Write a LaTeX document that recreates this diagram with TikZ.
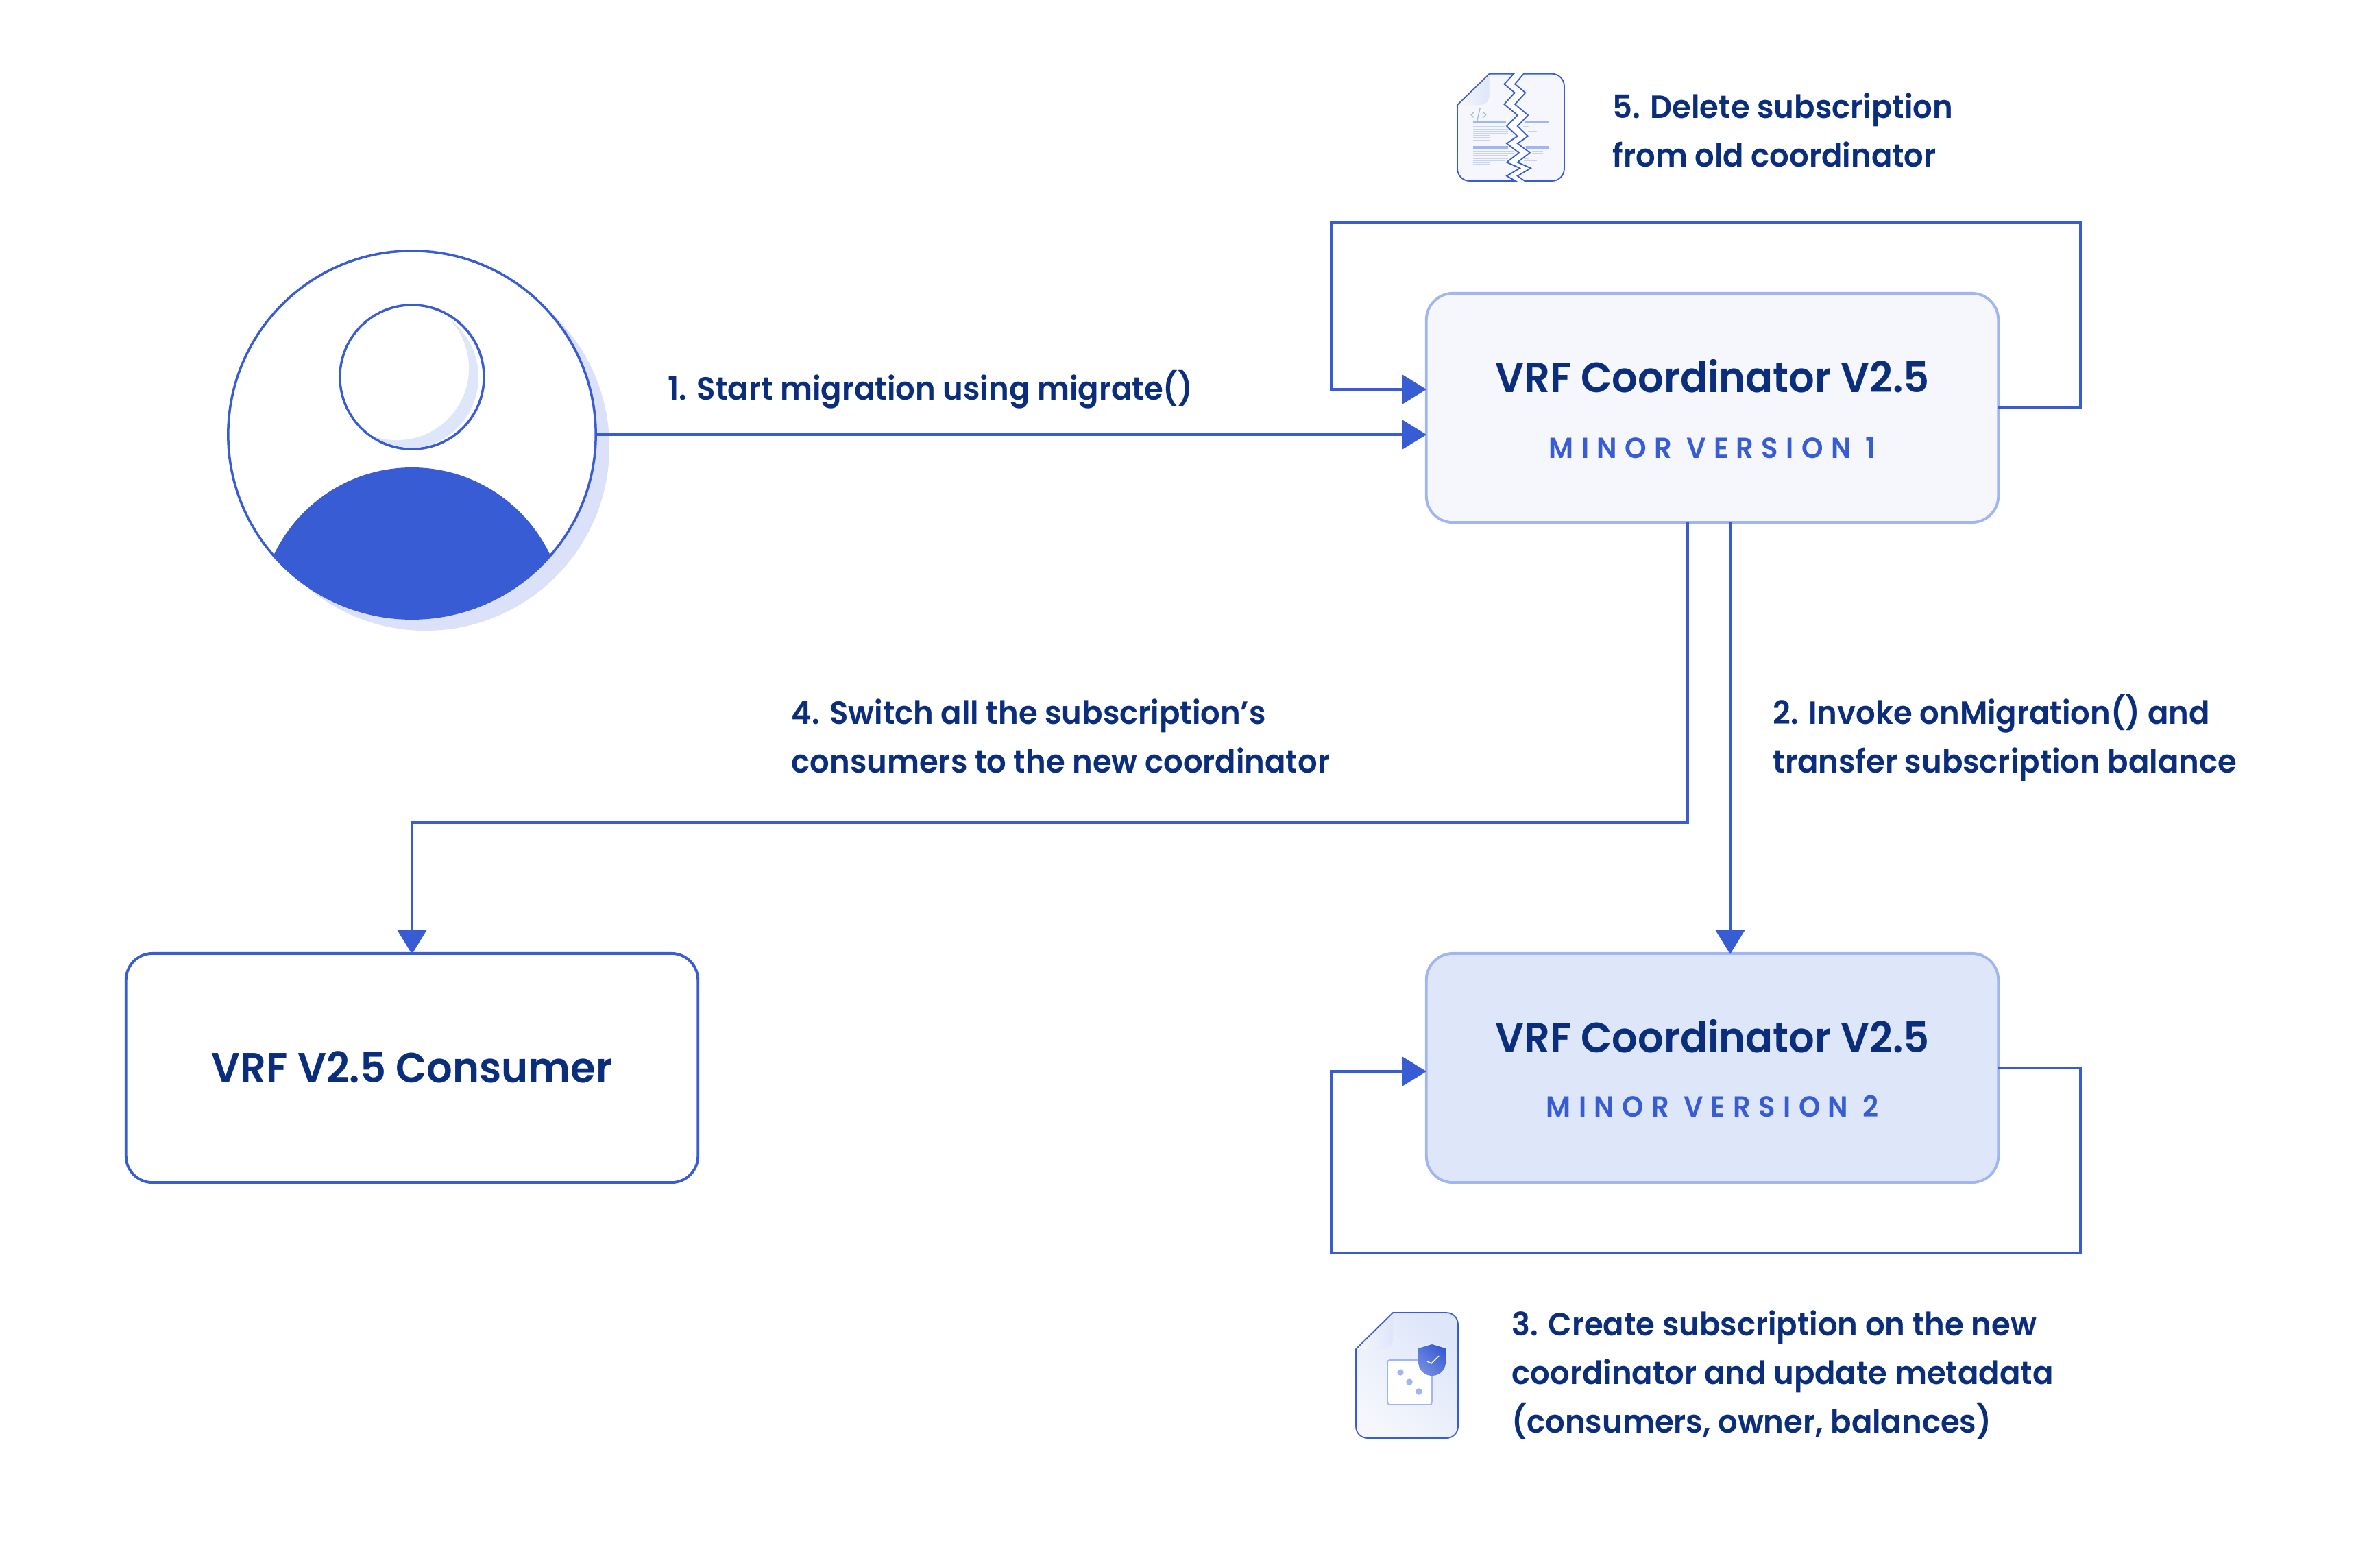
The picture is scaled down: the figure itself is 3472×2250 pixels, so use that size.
\documentclass[tikz,border=0pt]{standalone}
\usetikzlibrary{arrows.meta}
\usepackage{fontspec}
\setmainfont{Poppins}[BoldFont={Poppins SemiBold},FakeStretch=0.96]
\newfontfamily\spacedfont{Poppins}[LetterSpace=27,BoldFont={Poppins SemiBold},FakeStretch=0.95]
\definecolor{lineblue}{HTML}{385CD4}
\definecolor{textblue}{HTML}{0B2E7C}
\definecolor{edgeblue}{HTML}{A1B5F0}
\definecolor{paleblue}{HTML}{F5F7FC}
\definecolor{midblue}{HTML}{DEE6FA}
\definecolor{shadeblue}{HTML}{DAE1F9}
\tikzset{
	flow/.style={draw=lineblue,line width=1pt},
	arrowflow/.style={flow,-{Triangle[length=10pt,width=12pt]}},
	box/.style={draw=edgeblue,line width=1.1pt,rounded corners=11pt,minimum width=8.34cm,minimum height=3.34cm,inner sep=0pt},
	steptext/.style={anchor=west,align=left,inner sep=0pt,text=textblue,font=\fontsize{13.3}{20.2}\selectfont\bfseries},
	titletext/.style={text=textblue,font=\fontsize{17.5}{20}\selectfont\bfseries},
	minortext/.style={text=lineblue,font=\fontsize{12}{14}\spacedfont\bfseries},
	codeline/.style={draw=edgeblue!60,line width=0.35pt},
	codebar/.style={draw=edgeblue,line width=1.2pt},
}
\begin{document}
\begin{tikzpicture}[x=0.01cm,y=-0.01cm]
	\useasboundingbox (0,0) rectangle (3472,2250);
	% person
	\fill[shadeblue] (621,652) circle (268);
	\node[circle,draw=lineblue,fill=white,line width=1pt,minimum size=5.36cm,inner sep=0pt] (person) at (601,634) {};
	\begin{scope}
		\clip (601,634) circle (268);
		\fill[lineblue] (601,905) circle (223);
	\end{scope}
	\node[circle,draw=lineblue,fill=white,line width=1pt,minimum size=2.10cm,inner sep=0pt] (head) at (601,550) {};
	\begin{scope}
		\clip (601,550) circle (103);
		\fill[midblue] (593,550) circle (105);
		\fill[white] (579,537) circle (105);
	\end{scope}
	% boxes
	\node[box,fill=paleblue] (coordold) at (2498,595) {};
	\node[box,fill=midblue] (coordnew) at (2498,1558) {};
	\node[box,draw=lineblue,fill=white] (consumer) at (601,1558) {};
	\node[titletext] (titleold) at (2498,549) {VRF Coordinator V2.5};
	\node[minortext] (minorold) at (2498,653) {MINOR VERSION 1};
	\node[titletext] (titlenew) at (2498,1512) {VRF Coordinator V2.5};
	\node[minortext] (minornew) at (2498,1614) {MINOR VERSION 2};
	\node[titletext] at (601,1557) {VRF V2.5 Consumer};
	% connectors
	\coordinate (oldright) at (2915,595);
	\coordinate (oldleft) at (2081,568);
	\coordinate (newright) at (2915,1558);
	\coordinate (newleft) at (2081,1563);
	\coordinate (personout) at (869,634);
	\coordinate (oldin) at (2081,634);
	\coordinate (oldsouthl) at (2462,762);
	\coordinate (oldsouthr) at (2524,762);
	\coordinate (newnorth) at (2524,1392);
	\coordinate (consnorth) at (601,1392);
	\draw[arrowflow] (personout) -- (oldin);
	\draw[arrowflow] (oldright) -- (3035,595) -- (3035,325) -- (1942,325) -- (1942,568) -- (oldleft);
	\draw[arrowflow] (newright) -- (3035,1558) -- (3035,1828) -- (1942,1828) -- (1942,1563) -- (newleft);
	\draw[arrowflow] (oldsouthr) -- (newnorth);
	\draw[arrowflow] (oldsouthl) -- (2462,1200) -- (601,1200) -- (consnorth);
	% labels
	\node[steptext] at (974,568) {1. Start migration using migrate()};
	\node[steptext] at (2586,1077) {2. Invoke onMigration() and\\transfer subscription balance};
	\node[steptext] at (2205,2006) {3. Create subscription on the new\\coordinator and update metadata\\(consumers, owner, balances)};
	\node[steptext] at (1154,1074) {4. Switch all the subscription’s\\consumers to the new coordinator};
	\node[steptext] at (2352,190) {5. Delete subscription\\from old coordinator};
	% torn file
	\draw[lineblue,line width=0.5pt,fill=paleblue]
		(2208.3,107.7) -- (2172.7,107.7) -- (2126,153) -- (2126,246) arc[start angle=180,end angle=90,radius=18] -- (2211,264) -- (2198,256.7) -- (2217.3,245.3) -- (2198,236.7) -- (2215.7,222.7) -- (2198,209.3) -- (2213.7,198.7) -- (2198,184) -- (2213.7,168) -- (2194.3,152) -- (2209.7,135.3) -- (2194.3,122.7) -- cycle;
	\draw[lineblue,line width=0.5pt,fill=paleblue]
		(2222.7,107.7) -- (2264,107.7) arc[start angle=-90,end angle=0,radius=18] -- (2282,246) arc[start angle=0,end angle=90,radius=18] -- (2224.3,264) -- (2213.7,256.7) -- (2233,245.3) -- (2213.7,236.7) -- (2231.7,222.7) -- (2213.7,209.3) -- (2229,198.7) -- (2213.7,184) -- (2229,168) -- (2210,152) -- (2225.3,135.3) -- (2210,122.7) -- cycle;
	\shade[left color=paleblue,right color=midblue] (2172.7,109) -- (2172.7,140) arc[start angle=0,end angle=90,radius=13] -- (2128,153) -- cycle;
	\node[text=edgeblue,font=\fontsize{5}{5}\selectfont,inner sep=0pt] (codetag) at (2157,168) {</>};
	\foreach \y/\xl/\xr in {177.7/2149/2197,215/2149/2200,177.7/2224/2260,215/2226/2260} \draw[codebar] (\xl,\y) -- (\xr,\y);
	\foreach \y/\xr in {185/2195,189/2200,192/2200,195/2200,198/2173,201/2173,205/2173,221/2208,224/2208,227/2200,231/2200,234/2195,237/2173,240/2173}
		\draw[codeline] (2149,\y) -- (\xr,\y);
	\foreach \y/\xl/\xr in {185/2222/2230,192/2229/2242,221/2235/2251,224/2235/2251,231/2223/2230,234/2223/2242}
		\draw[codeline] (\xl,\y) -- (\xr,\y);
	% new file
	\draw[lineblue,line width=0.5pt,left color=paleblue,right color=midblue,shading angle=135]
		(2032,1915) -- (2110,1915) arc[start angle=-90,end angle=0,radius=17] -- (2127,2081) arc[start angle=0,end angle=90,radius=17] -- (1995,2098) arc[start angle=90,end angle=180,radius=17] -- (1978,1968) -- cycle;
	\shade[left color=paleblue,right color=midblue] (2032,1917) -- (2032,1955) arc[start angle=0,end angle=90,radius=13] -- (1980,1968) -- cycle;
	\draw[edgeblue,line width=0.5pt,fill=white,rounded corners=1pt] (2024,1984) rectangle (2089,2049);
	\foreach \x/\y in {2043/2002,2056/2016,2070/2030} \fill[edgeblue] (\x,\y) circle (4.7);
	\shade[left color=lineblue!70!white,right color=lineblue,shading angle=135] (2089,1961) -- (2109,1967) -- (2109,1987) arc[start angle=0,end angle=180,radius=20] -- (2069,1967) -- cycle;
	\draw[white,line width=0.4pt] (2082,1986) -- (2088,1989) -- (2099,1978);
\end{tikzpicture}
\end{document}
